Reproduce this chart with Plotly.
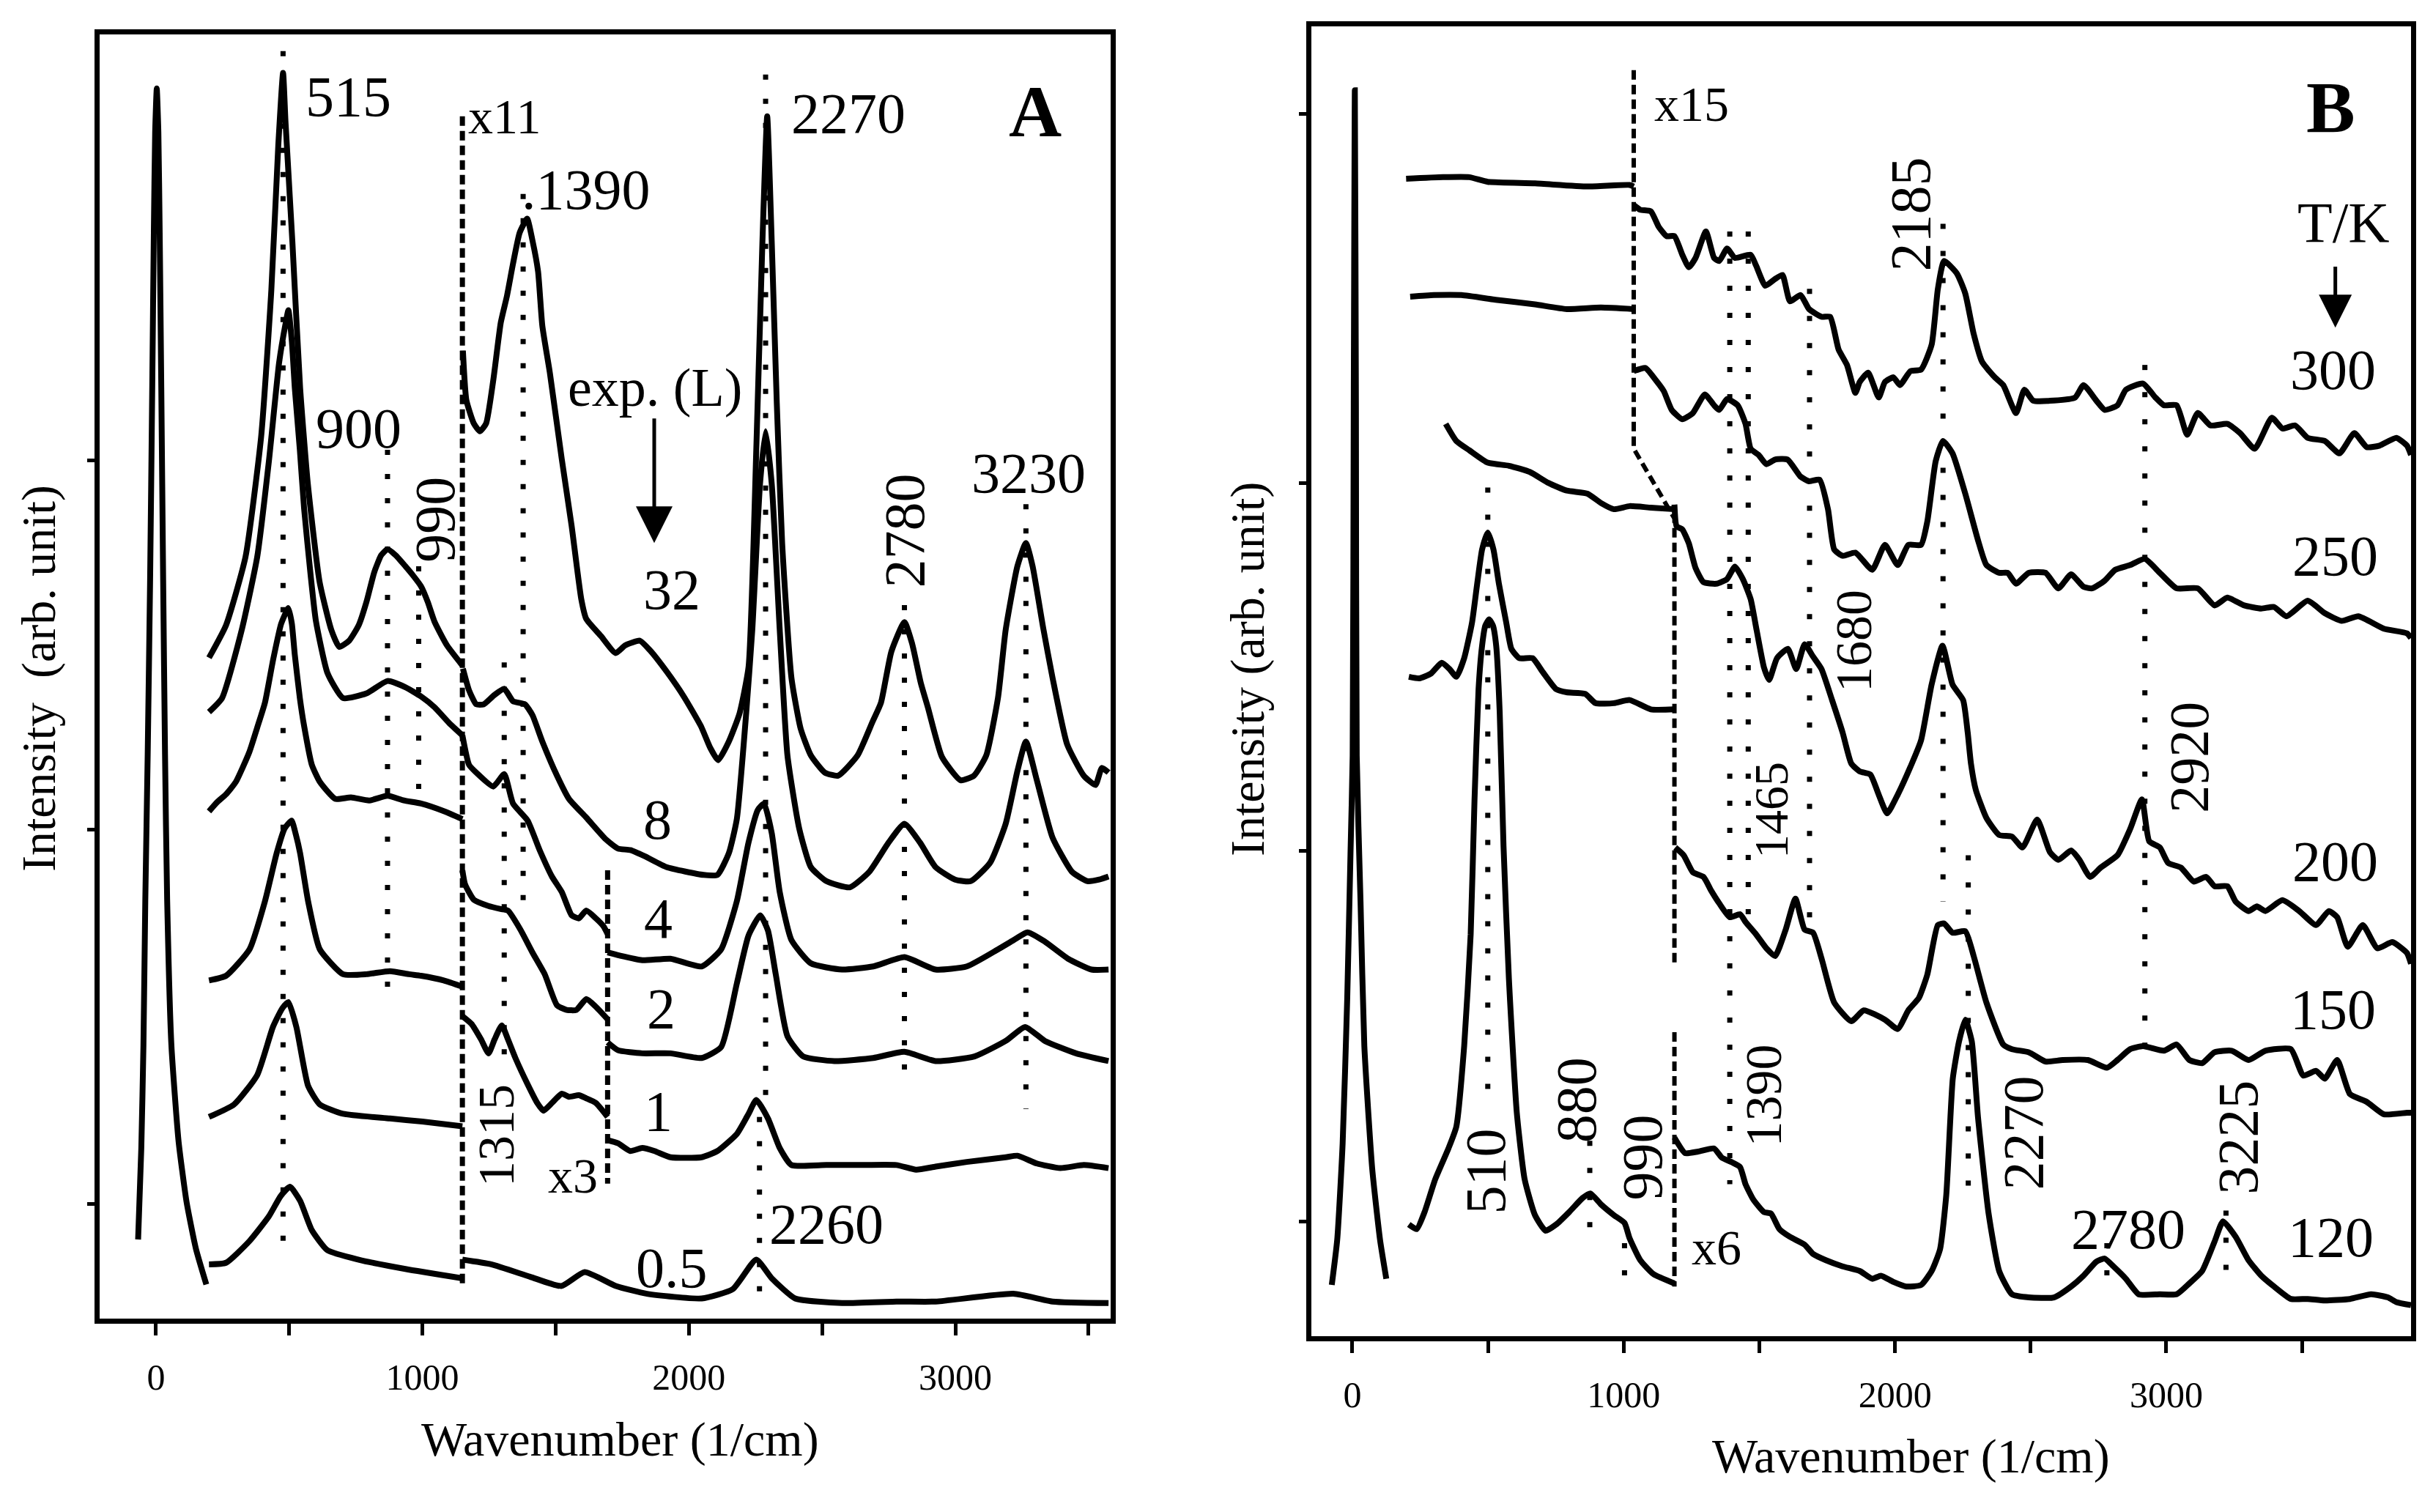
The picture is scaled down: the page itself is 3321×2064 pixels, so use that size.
import plotly.graph_objects as go

FONT = "Liberation Serif"

# ---------------- Panel A data: (wavenumber 1/cm, intensity arb. unit) ----------------
A_rayleigh = [(-67, 51), (-55, 110), (-47, 176), (-40, 270), (-31, 364), (-22, 476), (-14, 600), (-8, 700),
              (-3, 765), (3, 793), (9, 765), (14, 700), (20, 600), (27, 476), (34, 364), (42, 270), (58, 176),
              (85, 114), (115, 75), (150, 45), (189, 22)]

A_32_low = [(199, 426), (263, 447), (336, 491), (395, 569), (433, 663), (459, 756), (477, 803), (486, 772),
            (512, 694), (541, 600), (570, 538), (614, 475), (658, 444), (688, 433), (725, 437), (761, 447),
            (790, 462), (819, 481), (845, 492), (869, 496), (900, 492), (936, 485), (965, 479), (995, 472),
            (1020, 462), (1046, 449), (1092, 434), (1150, 421)]
A_32_x11 = [(1152, 624), (1165, 592), (1193, 577), (1216, 572), (1239, 577), (1266, 605), (1294, 642),
            (1317, 659), (1340, 680), (1365, 700), (1393, 709), (1413, 695), (1434, 675), (1450, 640),
            (1478, 610), (1523, 554), (1560, 511), (1596, 464), (1615, 451), (1670, 440), (1725, 429),
            (1761, 434), (1816, 437), (1853, 431), (1917, 417), (1981, 401), (2045, 382), (2080, 368),
            (2110, 360), (2150, 372), (2190, 390), (2224, 420), (2253, 560), (2276, 694), (2294, 775),
            (2311, 694), (2330, 590), (2350, 500), (2385, 413), (2420, 380), (2458, 363), (2510, 352),
            (2560, 350), (2633, 363), (2690, 385), (2721, 397), (2760, 430), (2809, 449), (2838, 435),
            (2870, 410), (2897, 394), (2950, 362), (3020, 347), (3070, 350), (3116, 363), (3160, 400),
            (3189, 444), (3233, 485), (3265, 500), (3290, 485), (3330, 445), (3365, 413), (3420, 370),
            (3482, 350), (3526, 344), (3550, 355), (3575, 352)]

A_8_low = [(199, 391), (248, 400), (322, 444), (380, 491), (424, 553), (462, 616), (486, 641), (497, 650),
           (510, 630), (521, 600), (540, 560), (556, 522), (580, 480), (600, 450), (644, 416), (702, 400),
           (790, 403), (869, 411), (936, 407), (995, 401), (1046, 394), (1100, 384), (1150, 376)]
A_8_x11 = [(1152, 419), (1175, 405), (1202, 396), (1230, 396), (1270, 402), (1307, 406), (1340, 398),
           (1385, 396), (1413, 389), (1450, 372), (1505, 350), (1550, 335), (1615, 323), (1688, 309),
           (1734, 303), (1780, 302), (1835, 298), (1917, 291), (2055, 286), (2107, 286), (2150, 300),
           (2180, 322), (2215, 390), (2238, 444), (2267, 538), (2288, 572), (2311, 538), (2341, 444),
           (2370, 363), (2414, 316), (2458, 291), (2516, 282), (2604, 278), (2677, 288), (2750, 307),
           (2809, 319), (2867, 307), (2926, 291), (2999, 283), (3058, 282), (3131, 294), (3189, 319),
           (3233, 353), (3265, 372), (3306, 347), (3365, 310), (3438, 288), (3496, 282), (3540, 283),
           (3575, 285)]

A_4_low = [(199, 327), (230, 333), (263, 338), (300, 346), (350, 365), (380, 381), (409, 397), (440, 425),
           (470, 448), (497, 458), (510, 448), (521, 428), (540, 400), (556, 382), (585, 357), (615, 346),
           (673, 335), (732, 336), (800, 334), (869, 337), (930, 334), (995, 332), (1082, 327), (1150, 322)]
A_4_x11 = [(1150, 376), (1175, 357), (1202, 352), (1266, 343), (1307, 351), (1340, 332), (1395, 321),
           (1440, 302), (1486, 285), (1523, 275), (1560, 260), (1587, 258), (1615, 263), (1651, 258),
           (1679, 253), (1695, 248)]
A_4_x3 = [(1695, 236), (1740, 234), (1825, 231), (1931, 232), (2048, 227), (2121, 238), (2180, 269),
          (2224, 307), (2259, 328), (2282, 332), (2311, 313), (2341, 275), (2385, 244), (2458, 229),
          (2575, 225), (2692, 227), (2809, 233), (2926, 225), (3043, 227), (3160, 238), (3219, 244),
          (3271, 249), (3336, 243), (3423, 232), (3511, 225), (3575, 225)]

A_2_low = [(199, 218), (263, 221), (351, 238), (409, 269), (453, 300), (483, 316), (509, 321), (525, 312),
           (541, 300), (571, 269), (615, 238), (702, 222), (790, 222), (878, 224), (950, 222), (995, 221),
           (1080, 218), (1150, 214)]
A_2_x11 = [(1150, 289), (1160, 280), (1193, 270), (1248, 266), (1294, 264), (1321, 263), (1367, 251),
           (1413, 236), (1459, 222), (1505, 202), (1541, 199), (1578, 199), (1615, 206), (1651, 201),
           (1695, 193)]
A_2_x3 = [(1695, 178), (1734, 173), (1825, 171), (1931, 171), (2048, 168), (2121, 175), (2180, 216),
          (2224, 247), (2268, 260), (2297, 250), (2326, 222), (2370, 182), (2429, 169), (2546, 166),
          (2692, 168), (2809, 172), (2926, 166), (3072, 169), (3189, 179), (3262, 188), (3336, 179),
          (3453, 171), (3575, 166)]

A_1_low = [(199, 130), (293, 138), (380, 157), (439, 188), (474, 200), (497, 204), (527, 188), (571, 150),
           (615, 138), (702, 132), (878, 129), (1000, 127), (1150, 124)]
A_1_x11 = [(1150, 195), (1184, 190), (1220, 180), (1248, 171), (1271, 180), (1298, 189), (1321, 180),
           (1349, 168), (1395, 151), (1431, 139), (1454, 134), (1486, 139), (1523, 145), (1550, 143),
           (1587, 144), (1615, 142), (1651, 139), (1695, 130)]
A_1_x3 = [(1695, 115), (1734, 113), (1780, 108), (1825, 110), (1871, 108), (1931, 104), (2048, 104),
          (2107, 108), (2180, 119), (2224, 132), (2253, 141), (2297, 129), (2341, 110), (2385, 99),
          (2516, 99), (2633, 99), (2779, 99), (2853, 96), (2926, 98), (3043, 101), (3189, 104), (3233, 105),
          (3306, 100), (3394, 97), (3482, 99), (3575, 97)]

A_05_low = [(199, 35), (263, 36), (351, 50), (424, 66), (468, 79), (503, 85), (541, 76), (585, 57),
            (644, 44), (761, 38), (936, 32), (1150, 26)]
A_05_x11 = [(1150, 38), (1258, 35), (1404, 27), (1521, 21), (1609, 30), (1726, 21), (1843, 16), (2048, 13),
            (2165, 19), (2253, 38), (2311, 26), (2399, 13), (2575, 10), (2779, 11), (2926, 11), (3218, 16),
            (3365, 11), (3575, 10)]

# peak guide lines (wavenumber, top, bottom)
A_guides = [(477, 817, 50), (869, 560, 204), (986, 485, 335), (1378, 725, 263), (1307, 423, 160),
            (2288, 802, 140), (2265, 130, 10), (2809, 460, 157), (3265, 525, 135)]
A_scale_breaks = [[(1150, 775), (1150, 22)], [(1695, 289), (1695, 87)]]
A_xticks = [0, 500, 1000, 1500, 2000, 2500, 3000, 3500]
A_yticks = [74, 315, 553]

# ---------------- Panel B data ----------------
B_rayleigh = [(-76, 33), (-56, 62), (-36, 124), (-19, 218), (-7, 311), (1, 374), (5, 600), (9, 803),
              (13, 600), (16, 374), (30, 280), (44, 187), (73, 108), (102, 62), (125, 37)]

B_300_low = [(198, 746), (334, 747), (431, 747), (499, 744), (673, 743), (867, 741), (1022, 742), (1037, 741)]
B_300_x15 = [(1037, 729), (1061, 726), (1100, 725), (1129, 715), (1158, 709), (1187, 709), (1216, 697),
             (1240, 689), (1265, 695), (1303, 712), (1333, 695), (1352, 693), (1381, 701), (1410, 695),
             (1468, 697), (1488, 690), (1522, 677), (1555, 681), (1585, 684), (1613, 667), (1652, 671),
             (1683, 662), (1730, 657), (1761, 657), (1792, 636), (1823, 626), (1854, 608), (1870, 615),
             (1901, 621), (1940, 605), (1963, 615), (1994, 618), (2018, 613), (2057, 622), (2096, 623),
             (2135, 639), (2158, 675), (2181, 693), (2228, 685), (2259, 672), (2290, 646), (2321, 628),
             (2368, 618), (2399, 613), (2446, 595), (2477, 610), (2509, 603), (2586, 603), (2664, 605),
             (2695, 613), (2742, 603), (2773, 597), (2820, 600), (2851, 610), (2914, 614), (2960, 605),
             (2991, 600), (3038, 600), (3077, 581), (3116, 595), (3163, 587), (3225, 588), (3272, 582),
             (3326, 572), (3389, 592), (3428, 585), (3475, 587), (3521, 579), (3584, 577), (3638, 569),
             (3693, 582), (3739, 573), (3786, 574), (3848, 579), (3887, 574), (3902, 568)]

B_250_low = [(213, 670), (300, 671), (402, 671), (528, 668), (673, 665), (790, 662), (916, 663), (1037, 662)]
B_250_x15 = [(1037, 622), (1080, 624), (1119, 616), (1148, 609), (1177, 597), (1216, 591), (1255, 595),
             (1299, 607), (1333, 600), (1352, 597), (1381, 604), (1420, 600), (1449, 588), (1468, 572),
             (1497, 568), (1526, 562), (1558, 565), (1604, 565), (1652, 554), (1683, 551), (1722, 552),
             (1753, 533), (1776, 507), (1807, 503), (1854, 505), (1916, 494), (1963, 510), (2010, 497),
             (2049, 510), (2096, 510), (2119, 525), (2150, 564), (2177, 577), (2212, 569), (2259, 543),
             (2306, 513), (2337, 497), (2384, 492), (2415, 492), (2446, 485), (2493, 492), (2555, 492),
             (2602, 482), (2649, 491), (2695, 483), (2727, 482), (2773, 487), (2812, 494), (2867, 497),
             (2921, 501), (2976, 492), (3038, 482), (3116, 482), (3178, 471), (3225, 476), (3287, 471),
             (3350, 469), (3397, 470), (3443, 464), (3521, 474), (3584, 466), (3646, 461), (3708, 464),
             (3802, 456), (3887, 453), (3902, 450)]

B_200_low = [(344, 588), (383, 577), (431, 571), (499, 563), (577, 561), (654, 557), (722, 550), (790, 545),
             (867, 543), (916, 537), (964, 533), (1022, 535), (1100, 534), (1187, 533)]
B_200_x15 = [(1187, 536), (1195, 522), (1216, 520), (1240, 511), (1265, 495), (1294, 486), (1342, 485),
             (1381, 488), (1410, 496), (1439, 488), (1468, 475), (1490, 455), (1517, 431), (1536, 423),
             (1565, 437), (1605, 443), (1636, 430), (1667, 446), (1698, 438), (1729, 430), (1768, 410),
             (1807, 389), (1839, 369), (1870, 364), (1909, 362), (1940, 349), (1971, 337), (2010, 349),
             (2057, 367), (2096, 384), (2135, 420), (2175, 445), (2212, 420), (2251, 410), (2268, 389),
             (2280, 369), (2298, 352), (2337, 334), (2384, 323), (2431, 322), (2470, 315), (2524, 333),
             (2571, 312), (2602, 307), (2649, 313), (2680, 307), (2719, 296), (2758, 302), (2820, 310),
             (2867, 327), (2910, 346), (2937, 319), (2976, 315), (3007, 305), (3054, 302), (3101, 293),
             (3147, 296), (3178, 290), (3225, 290), (3256, 280), (3303, 274), (3334, 277), (3365, 274),
             (3428, 281), (3490, 274), (3552, 265), (3599, 274), (3630, 270), (3669, 251), (3724, 265),
             (3778, 250), (3833, 254), (3887, 247), (3902, 240)]

B_150_low = [(208, 425), (247, 424), (289, 427), (329, 434), (358, 430), (383, 425), (412, 437), (441, 460),
             (460, 485), (478, 507), (499, 518), (520, 507), (540, 485), (567, 460), (586, 443), (615, 437),
             (664, 437), (702, 428), (751, 417), (790, 415), (858, 414), (896, 408), (964, 408), (1022, 410),
             (1100, 404), (1187, 404)]
B_150_x15 = [(1190, 315), (1221, 310), (1255, 299), (1294, 296), (1323, 287), (1352, 279), (1391, 270),
             (1429, 272), (1449, 267), (1488, 259), (1526, 250), (1558, 245), (1597, 262), (1633, 282),
             (1667, 262), (1698, 260), (1730, 243), (1776, 215), (1839, 203), (1885, 210), (1963, 204),
             (2010, 198), (2049, 210), (2088, 218), (2119, 233), (2158, 265), (2181, 266), (2212, 260),
             (2259, 261), (2290, 245), (2337, 215), (2399, 188), (2431, 185), (2493, 183), (2555, 177),
             (2618, 178), (2711, 178), (2781, 173), (2820, 178), (2867, 185), (2914, 187), (2991, 184),
             (3038, 188), (3085, 178), (3132, 176), (3178, 183), (3241, 184), (3303, 178), (3365, 184),
             (3459, 185), (3505, 168), (3552, 171), (3584, 166), (3630, 178), (3677, 156), (3739, 151),
             (3802, 143), (3887, 144), (3902, 144)]

B_120_low = [(208, 72), (237, 69), (266, 80), (305, 101), (354, 121), (383, 135), (412, 187), (436, 259),
             (450, 345), (465, 417), (478, 445), (490, 458), (504, 462), (518, 458), (530, 445), (543, 402),
             (557, 316), (577, 230), (606, 144), (635, 101), (673, 78), (712, 68), (751, 72), (799, 80),
             (848, 89), (877, 92), (916, 85), (964, 78), (1003, 73), (1022, 63), (1061, 49), (1110, 40),
             (1187, 34)]
B_120_x6 = [(1187, 128), (1197, 125), (1226, 118), (1274, 119), (1333, 121), (1362, 115), (1400, 112),
            (1429, 109), (1449, 98), (1478, 88), (1517, 80), (1543, 79), (1574, 69), (1613, 64), (1667, 59),
            (1698, 53), (1745, 49), (1807, 45), (1870, 42), (1916, 37), (1948, 39), (1994, 35), (2041, 32),
            (2096, 33), (2135, 42), (2166, 56), (2189, 91), (2213, 166), (2236, 190), (2259, 204),
            (2283, 190), (2306, 141), (2345, 79), (2384, 42), (2431, 27), (2493, 25), (2586, 25), (2649, 32),
            (2695, 39), (2742, 48), (2773, 50), (2805, 45), (2851, 37), (2898, 27), (2976, 27), (3038, 27),
            (3085, 34), (3132, 42), (3178, 61), (3209, 74), (3256, 64), (3303, 49), (3350, 39), (3397, 32),
            (3459, 24), (3521, 24), (3584, 23), (3677, 24), (3755, 27), (3817, 25), (3848, 22), (3902, 20)]

B_guides = [(499, 547, 151), (875, 126, 60), (1003, 60, 32), (1391, 712, 98), (1459, 712, 265),
            (1685, 675, 260), (2177, 717, 280), (2270, 310, 89), (2921, 626, 173), (2781, 60, 29),
            (3220, 81, 41)]
B_scale_breaks = [[(1037, 816), (1037, 572), (1187, 527), (1187, 238)], [(1187, 196), (1187, 32)]]
B_xticks = [0, 500, 1000, 1500, 2000, 2500, 3000, 3500]
B_yticks = [74, 313, 550, 788]

# ---------------- figure ----------------
fig = go.Figure()


def add_curve(pts, xa, ya, width=8, dash=None, smooth=True):
    fig.add_trace(go.Scatter(
        x=[p[0] for p in pts], y=[p[1] for p in pts], mode="lines", xaxis=xa, yaxis=ya,
        line=dict(color="black", width=width, dash=dash,
                  shape="spline" if smooth else "linear", smoothing=0.5),
        hoverinfo="skip", showlegend=False))


A_curves = [A_rayleigh, A_32_low, A_32_x11, A_8_low, A_8_x11, A_4_low, A_4_x11, A_4_x3,
            A_2_low, A_2_x11, A_2_x3, A_1_low, A_1_x11, A_1_x3, A_05_low, A_05_x11]
B_curves = [B_rayleigh, B_300_low, B_300_x15, B_250_low, B_250_x15, B_200_low, B_200_x15,
            B_150_low, B_150_x15, B_120_low, B_120_x6]

DOT = "7px,26px"
DASH = "13px,7px"

for wn, top, bot in A_guides:
    add_curve([(wn, top), (wn, bot)], "x", "y", width=7, dash=DOT, smooth=False)
for seg in A_scale_breaks:
    add_curve(seg, "x", "y", width=7, dash=DASH, smooth=False)
for c in A_curves:
    add_curve(c, "x", "y")

for wn, top, bot in B_guides:
    add_curve([(wn, top), (wn, bot)], "x2", "y2", width=7, dash="7px,30px", smooth=False)
for seg in B_scale_breaks:
    add_curve(seg, "x2", "y2", width=6, dash=DASH, smooth=False)
for c in B_curves:
    add_curve(c, "x2", "y2")

W, H = 3321, 2064


def xaxis_cfg(domain, rng, ticks, anchor):
    return dict(domain=domain, range=rng, anchor=anchor, showgrid=False, zeroline=False,
                showline=True, mirror=True, linecolor="black", linewidth=7,
                ticks="outside", ticklen=16, tickwidth=5, tickcolor="black",
                tickvals=ticks, ticktext=[str(t) if t % 1000 == 0 else "" for t in ticks],
                tickfont=dict(family=FONT, size=50, color="black"), ticklabelstandoff=14)


def yaxis_cfg(domain, rng, ticks, anchor):
    return dict(domain=domain, range=rng, anchor=anchor, showgrid=False, zeroline=False,
                showline=True, mirror=True, linecolor="black", linewidth=7,
                ticks="outside", ticklen=10, tickwidth=5, tickcolor="black",
                tickvals=ticks, showticklabels=False)


fig.update_layout(
    width=W, height=H, margin=dict(l=0, r=0, t=0, b=0),
    paper_bgcolor="white", plot_bgcolor="white", showlegend=False,
    xaxis=xaxis_cfg([136 / W, 1516 / W], [-211.4, 3582.9], A_xticks, "y"),
    yaxis=yaxis_cfg([1 - 1800 / H, 1 - 47 / H], [0, 827.8], A_yticks, "x"),
    xaxis2=xaxis_cfg([1790 / W, 3291 / W], [-151.2, 3902], B_xticks, "y2"),
    yaxis2=yaxis_cfg([1 - 1824 / H, 1 - 36 / H], [0, 844.2], B_yticks, "x2"),
)

ann = []


def label(text, x, y, ax="x", ay="y", size=78, angle=0):
    ann.append(dict(text=text, x=x, y=y, xref=ax, yref=ay, showarrow=False, textangle=angle,
                    xanchor="center", yanchor="middle",
                    font=dict(family=FONT, size=size, color="black")))


# Panel A labels
label("515", 723, 788)
label("<b>A</b>", 3300, 778, size=100)
label("x11", 1309, 775, size=68)
label(".1390", 1614, 728)
label("exp. (L)", 1874, 600, size=74)
label("900", 760, 574)
label("990", 1046, 515, angle=-90)
label("32", 1936, 470)
label("2270", 2598, 777)
label("2780", 2808, 508, angle=-90)
label("3230", 3275, 545)
label("8", 1881, 322)
label("4", 1884, 258)
label("2", 1895, 200)
label("1", 1884, 134)
label("1315", 1276, 118, size=70, angle=-90)
label("x3", 1565, 92, size=68)
label("2260", 2516, 61)
label("0.5", 1936, 33)

# Panel B labels
label("<b>B</b>", 3607, 792, "x2", "y2", size=100)
label("x15", 1250, 794, "x2", "y2", size=68)
label("2185", 2057, 723, "x2", "y2", angle=-90)
label("T/K", 3653, 718, "x2", "y2")
label("300", 3615, 623, "x2", "y2")
label("250", 3623, 503, "x2", "y2")
label("1680", 1847, 448, "x2", "y2", size=70, angle=-90)
label("1465", 1542, 339, "x2", "y2", size=66, angle=-90)
label("2920", 3083, 373, "x2", "y2", size=76, angle=-90)
label("200", 3623, 306, "x2", "y2")
label("150", 3615, 211, "x2", "y2")
label("120", 3607, 64, "x2", "y2")
label("510", 489, 106, "x2", "y2", angle=-90)
label("880", 824, 152, "x2", "y2", angle=-90)
label("990", 1067, 115, "x2", "y2", angle=-90)
label("x6", 1342, 57, "x2", "y2", size=68)
label("1390", 1517, 155, "x2", "y2", size=70, angle=-90)
label("2270", 2471, 131, "x2", "y2", angle=-90)
label("2780", 2859, 69, "x2", "y2")
label("3225", 3264, 128, "x2", "y2", angle=-90)

# arrows
ann.append(dict(x=1870, y=500, ax=1870, ay=581, xref="x", yref="y", axref="x", ayref="y",
                text="", showarrow=True, arrowhead=2, arrowsize=2.0, arrowwidth=5, arrowcolor="black"))
ann.append(dict(x=3623, y=650, ax=3623, ay=690, xref="x2", yref="y2", axref="x2", ayref="y2",
                text="", showarrow=True, arrowhead=2, arrowsize=1.8, arrowwidth=5, arrowcolor="black"))

# axis titles
for txt, px, py, ang in [("Wavenumber (1/cm)", 846, 1965, 0), ("Wavenumber (1/cm)", 2608, 1988, 0),
                         ("Intensity\u00a0 (arb. unit)", 53, 926, -90), ("Intensity (arb. unit)", 1703, 913, -90)]:
    ann.append(dict(text=txt, x=px / W, y=1 - py / H, xref="paper", yref="paper", showarrow=False,
                    textangle=ang, xanchor="center", yanchor="middle",
                    font=dict(family=FONT, size=66, color="black")))

fig.update_layout(annotations=ann)
fig.write_html("out.html")
